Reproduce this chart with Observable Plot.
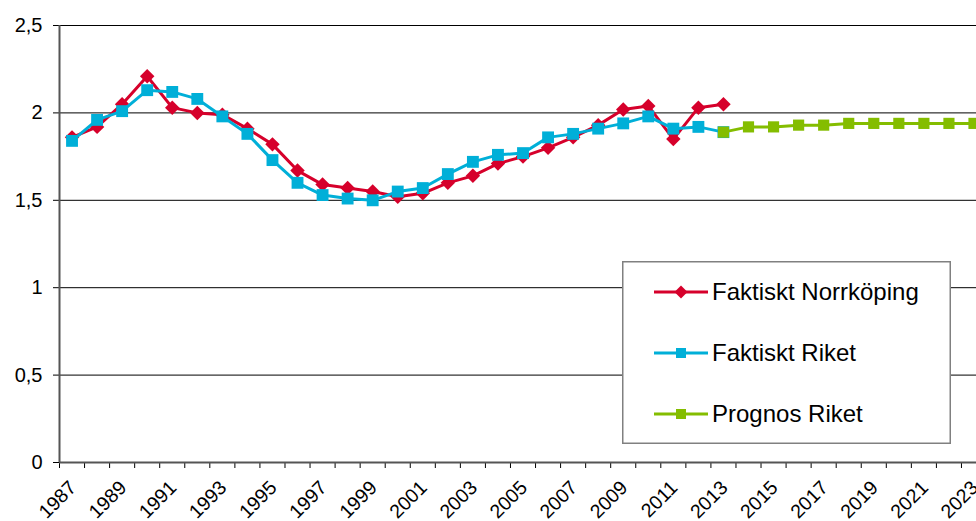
<!DOCTYPE html>
<html>
<head>
<meta charset="utf-8">
<script src="https://cdn.jsdelivr.net/npm/d3@7"></script>
<script src="https://cdn.jsdelivr.net/npm/@observablehq/plot@0.6"></script>
<style>
  html, body { margin: 0; padding: 0; background: #fff; overflow: hidden; }
  #wrap { position: relative; width: 976px; height: 521px; font-family: "Liberation Sans", Arial, sans-serif; }
  #legend { position: absolute; left: 622px; top: 261px; }
</style>
</head>
<body>
<div id="wrap"></div>
<script>
// ---- data ----
const actualYears = [1987,1988,1989,1990,1991,1992,1993,1994,1995,1996,1997,1998,1999,2000,
  2001,2002,2003,2004,2005,2006,2007,2008,2009,2010,2011,2012,2013];
const norrkoping = [1.86,1.92,2.05,2.21,2.03,2.00,1.99,1.91,1.82,1.67,1.59,1.57,1.55,1.52,
  1.54,1.60,1.64,1.71,1.75,1.80,1.86,1.93,2.02,2.04,1.85,2.03,2.05];
const riket = [1.84,1.96,2.01,2.13,2.12,2.08,1.98,1.88,1.73,1.60,1.53,1.51,1.50,1.55,
  1.57,1.65,1.72,1.76,1.77,1.86,1.88,1.91,1.94,1.98,1.91,1.92,1.89];
const prognosYears = [2013,2014,2015,2016,2017,2018,2019,2020,2021,2022,2023];
const prognos = [1.89,1.92,1.92,1.93,1.93,1.94,1.94,1.94,1.94,1.94,1.94];
const seriesNames = ["Faktiskt Norrköping", "Faktiskt Riket", "Prognos Riket"];
const seriesColors = ["#d6002b", "#00afd8", "#84bd00"];
const yTicks = [0, 0.5, 1, 1.5, 2, 2.5];
const xLabelYears = [1987,1989,1991,1993,1995,1997,1999,2001,2003,2005,2007,2009,2011,2013,
  2015,2017,2019,2021,2023];

// ---- tables ----
const tN = actualYears.map((year, i) => ({year, value: norrkoping[i]}));
const tR = actualYears.map((year, i) => ({year, value: riket[i]}));
const tP = prognosYears.map((year, i) => ({year, value: prognos[i]}));
const xBoundaries = d3.range(1986.5, 2024, 1);

// custom symbols
const diamondSym = {draw(ctx, size) { const h = Math.sqrt(size) * 0.6;
  ctx.moveTo(0, -h); ctx.lineTo(h, 0); ctx.lineTo(0, h); ctx.lineTo(-h, 0); ctx.closePath(); }};
const squareSym = {draw(ctx, size) { const h = Math.sqrt(size) / 2;
  ctx.rect(-h, -h, 2 * h, 2 * h); }};

const fmt = d => String(d).replace(".", ",");

const chart = Plot.plot({
  width: 976,
  height: 521,
  marginLeft: 59,
  marginRight: 0,
  marginTop: 25,
  marginBottom: 59,
  style: {fontFamily: '"Liberation Sans", Arial, sans-serif', fontSize: "20px", color: "#000", background: "#fff", overflow: "visible"},
  x: {domain: [1986.5, 2023.1], ticks: xBoundaries, tickFormat: () => "", tickSize: 6, label: null},
  y: {domain: [0, 2.5], ticks: yTicks, tickFormat: fmt, tickSize: 6, tickPadding: 11, label: null},
  marks: [
    Plot.ruleY(yTicks.filter(d => d > 0), {stroke: "#000", strokeWidth: 1}),
    Plot.ruleY([0], {stroke: "#555", strokeWidth: 2}),
    Plot.ruleX([1986.5], {stroke: "#555", strokeWidth: 2}),
    Plot.line(tN, {x: "year", y: "value", stroke: seriesColors[0], strokeWidth: 3, strokeLinejoin: "round"}),
    Plot.dot(tN, {x: "year", y: "value", fill: seriesColors[0], symbol: diamondSym, r: 6.8}),
    Plot.line(tR, {x: "year", y: "value", stroke: seriesColors[1], strokeWidth: 3, strokeLinejoin: "round"}),
    Plot.dot(tR, {x: "year", y: "value", fill: seriesColors[1], symbol: squareSym, r: 6.7}),
    Plot.line(tP, {x: "year", y: "value", stroke: seriesColors[2], strokeWidth: 3, strokeLinejoin: "round"}),
    Plot.dot(tP, {x: "year", y: "value", fill: seriesColors[2], symbol: squareSym, r: 6.3}),
    Plot.text(xLabelYears, {x: d => d, frameAnchor: "bottom", text: d => String(d), rotate: -45,
      textAnchor: "end", lineAnchor: "middle", dx: 1, dy: 22, fontSize: 19.5, fill: "#000"})
  ]
});
document.getElementById("wrap").appendChild(chart);

// ---- legend ----
const legW = 329, legH = 183;
const leg = d3.select("#wrap").append("svg").attr("id", "legend")
  .attr("width", legW).attr("height", legH);
leg.append("rect").attr("x", 0.75).attr("y", 0.75).attr("width", legW - 1.5).attr("height", legH - 1.5)
  .attr("fill", "#fff").attr("stroke", "#808080").attr("stroke-width", 1.5);
const rowY = [31, 92, 153];
const symbols = ["diamond", "square", "square"];
seriesNames.forEach((name, i) => {
  const g = leg.append("g").attr("transform", `translate(0,${rowY[i]})`);
  g.append("line").attr("x1", 32).attr("x2", 86).attr("y1", 0).attr("y2", 0)
    .attr("stroke", seriesColors[i]).attr("stroke-width", 3);
  if (symbols[i] === "diamond") {
    g.append("path").attr("d", "M59,-6.5L65.5,0L59,6.5L52.5,0Z").attr("fill", seriesColors[i]);
  } else {
    g.append("rect").attr("x", 54).attr("y", -5).attr("width", 10).attr("height", 10).attr("fill", seriesColors[i]);
  }
  g.append("text").attr("x", 90).attr("y", 7.5).attr("font-size", 24).attr("fill", "#000")
    .attr("font-family", '"Liberation Sans", Arial, sans-serif').text(name);
});
</script>
</body>
</html>
